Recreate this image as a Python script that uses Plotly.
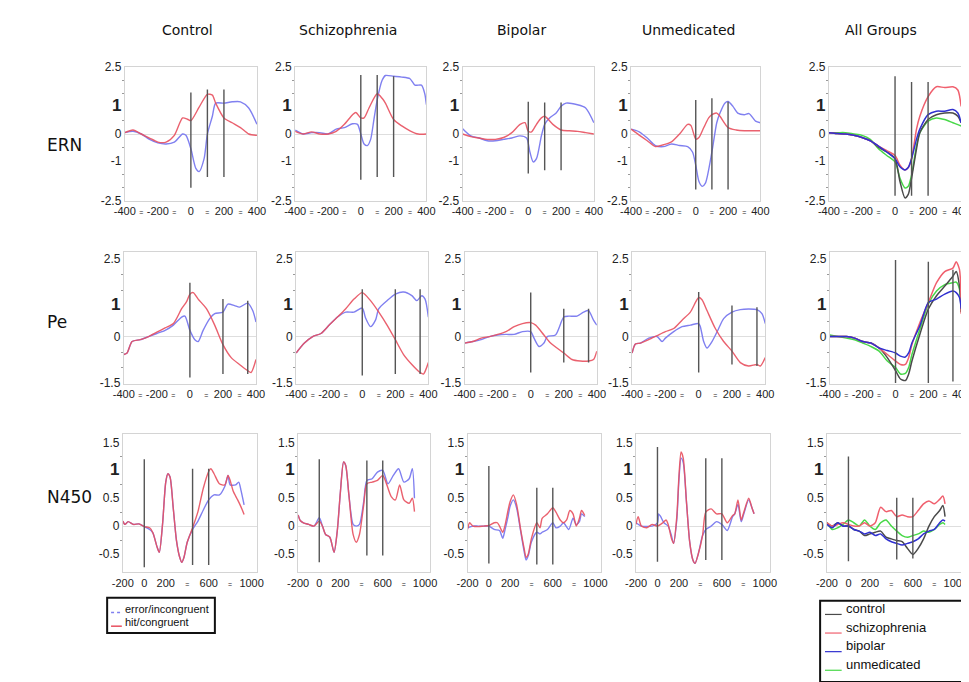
import plotly.graph_objects as go

W, H = 969, 682

# ---------------- DATA (time in ms, amplitude in uV) ----------------
COL_TITLES = ["Control", "Schizophrenia", "Bipolar", "Unmedicated", "All Groups"]
ROW_TITLES = ["ERN", "Pe", "N450"]
GROUPS = ["control", "schizophrenia", "bipolar", "unmedicated"]

# ERN row
ERN_CTRL_HIT_T = [-400,-350,-300,-250,-200,-150,-100,-50,-20,0,50,100,130,150,200,250,300,350,400]
ERN_CTRL_HIT_V = [0.05,0.15,0,-0.15,-0.3,-0.3,-0.05,0.6,0.55,0.5,1.0,1.48,1.45,1.15,0.6,0.42,0.24,0,-0.05]
ERN_CTRL_ERR_T = [-400,-350,-300,-250,-200,-150,-100,-50,-30,0,30,50,80,100,130,150,200,250,300,350,400]
ERN_CTRL_ERR_V = [0.05,0.1,0,-0.2,-0.33,-0.37,-0.3,0,-0.05,-0.55,-1.28,-1.4,-0.92,0,0.66,1.15,1.15,1.2,1.2,0.97,0.36]
ERN_SCZ_HIT_T = [-400,-350,-300,-250,-200,-150,-100,-50,-30,0,20,50,100,130,150,200,250,300,350,400]
ERN_SCZ_HIT_V = [0.1,0,0.08,0,0,0.1,0.36,0.72,0.8,0.6,0.6,0.97,1.5,1.33,1.15,0.54,0.3,0.12,0,0]
ERN_SCZ_ERR_T = [-400,-350,-300,-250,-200,-150,-100,-50,-20,0,20,40,60,80,100,130,150,200,250,300,330,370,390,400]
ERN_SCZ_ERR_V = [0.15,0,0.05,0.05,0,0.18,0.24,0.38,0.36,0,-0.37,-0.43,-0.2,0.54,1.27,2.0,2.18,2.15,2.12,2.06,1.82,1.82,1.5,1.09]
ERN_BIP_HIT_T = [-400,-350,-300,-250,-200,-150,-100,-50,-20,0,20,50,80,100,150,200,250,300,350,400]
ERN_BIP_HIT_V = [0,-0.1,-0.15,-0.2,-0.2,-0.13,0.05,0.36,0.42,0.1,0.08,0.36,0.6,0.66,0.36,0.15,0.12,0.1,0.05,0]
ERN_BIP_ERR_T = [-400,-350,-300,-250,-200,-150,-100,-50,-10,10,30,50,80,100,130,170,200,230,300,350,400]
ERN_BIP_ERR_V = [0.2,-0.07,-0.15,-0.25,-0.25,-0.2,-0.15,-0.07,-0.15,-0.67,-1.04,-0.92,-0.07,0.36,0.6,0.78,1.03,1.15,1.09,0.97,0.42]
ERN_UNM_HIT_T = [-400,-350,-300,-250,-200,-150,-100,-50,-30,0,20,50,80,100,130,150,200,250,300,350,400]
ERN_UNM_HIT_V = [0.18,-0.04,-0.25,-0.47,-0.4,-0.29,0,0.36,0.32,-0.19,-0.13,0.24,0.6,0.72,0.78,0.66,0.24,0.15,0.12,0.12,0.12]
ERN_UNM_ERR_T = [-400,-350,-300,-250,-200,-150,-100,-50,-20,0,20,40,60,100,130,150,180,200,230,260,300,330,370,400]
ERN_UNM_ERR_V = [0.18,0.08,-0.15,-0.43,-0.47,-0.37,-0.43,-0.47,-0.67,-1.16,-1.77,-1.95,-1.83,-0.67,0.42,0.78,1.15,1.21,1.03,0.78,0.72,0.76,0.48,0.42]
ERN_ALL_T = [-400,-350,-300,-250,-200,-150,-100,-50,0,30,60,80,100,130,150,200,250,300,350,380,400]
ERN_ALL_CONTROL = [0.05,0.02,0,-0.05,-0.13,-0.25,-0.49,-0.67,-0.92,-1.77,-2.38,-2.25,-1.65,-0.55,0.05,0.54,0.72,0.78,0.78,0.66,0.42]
ERN_ALL_SCZ = [0.05,0.02,0,-0.05,-0.13,-0.25,-0.45,-0.62,-0.8,-1.16,-1.34,-1.25,-0.92,0.18,0.66,1.39,1.76,1.73,1.76,1.64,1.03]
ERN_ALL_BIP = [0.05,0.02,0,-0.05,-0.13,-0.25,-0.45,-0.67,-0.92,-1.22,-1.34,-1.25,-0.92,-0.19,0.18,0.72,0.85,0.85,0.91,0.78,0.42]
ERN_ALL_UNM = [0.05,0.05,0.05,0,-0.05,-0.2,-0.55,-0.8,-1.04,-1.65,-2.01,-1.95,-1.53,-0.43,0.05,0.48,0.6,0.54,0.42,0.35,0.3]

# Pe row
PE_CTRL_HIT_T = [-400,-380,-350,-300,-250,-200,-150,-100,-50,-20,0,20,50,100,150,200,250,300,350,370,400]
PE_CTRL_HIT_V = [-0.58,-0.53,-0.16,-0.1,0,0.14,0.28,0.42,0.9,1.13,1.37,1.42,1.21,0.9,0.37,-0.26,-0.68,-0.9,-1.1,-1.16,-0.74]
PE_CTRL_ERR_T = [-400,-380,-350,-300,-250,-200,-150,-100,-50,-30,0,30,50,80,120,150,200,230,270,300,350,380,400]
PE_CTRL_ERR_V = [-0.58,-0.53,-0.16,-0.1,0,0.1,0.2,0.37,0.63,0.66,0.2,-0.1,-0.16,0.2,0.58,0.74,0.79,1.05,1.0,0.95,1.08,0.84,0.47]
PE_SCZ_HIT_T = [-400,-350,-300,-250,-200,-150,-100,-50,0,50,100,150,200,250,300,350,370,400]
PE_SCZ_HIT_V = [-0.53,-0.21,0,0.1,0.37,0.63,0.9,1.21,1.42,1.16,0.79,0.37,-0.1,-0.58,-0.9,-1.16,-1.21,-0.84]
PE_SCZ_ERR_T = [-400,-350,-300,-250,-200,-150,-100,-50,0,20,50,80,100,150,200,250,300,330,360,380,400]
PE_SCZ_ERR_V = [-0.53,-0.21,0,0.1,0.37,0.63,0.79,0.79,0.92,0.6,0.32,0.53,0.9,1.16,1.37,1.44,1.32,1.16,1.32,1.21,0.63]
PE_BIP_HIT_T = [-400,-350,-300,-250,-200,-150,-100,-50,0,30,80,120,200,250,300,350,380,400]
PE_BIP_HIT_V = [-0.21,-0.16,-0.05,0,0.07,0.16,0.32,0.42,0.45,0.37,0.05,-0.21,-0.53,-0.74,-0.79,-0.79,-0.74,-0.47]
PE_BIP_ERR_T = [-400,-350,-300,-250,-200,-150,-100,-50,0,20,50,80,100,150,200,230,280,320,350,380,400]
PE_BIP_ERR_V = [-0.21,-0.16,-0.1,0,0.05,0.07,0.07,0.16,0.16,-0.05,-0.32,-0.21,0,0.05,0.63,0.66,0.66,0.79,0.84,0.53,0.37]
PE_UNM_HIT_T = [-400,-380,-350,-300,-250,-200,-150,-100,-50,0,20,50,100,150,200,250,300,350,370,400]
PE_UNM_HIT_V = [-0.53,-0.24,-0.21,-0.1,0.03,0.16,0.26,0.53,0.79,1.26,1.19,0.84,0.26,-0.16,-0.47,-0.84,-0.95,-0.9,-0.95,-0.68]
PE_UNM_ERR_T = [-400,-380,-350,-300,-250,-220,-200,-150,-100,-50,0,10,30,50,80,120,150,200,250,300,350,380,400]
PE_UNM_ERR_V = [-0.53,-0.24,-0.21,-0.05,0,-0.16,-0.05,0.16,0.32,0.37,0.42,0.32,-0.16,-0.37,-0.16,0.26,0.58,0.79,0.87,0.89,0.87,0.74,0.42]
PE_ALL_T = [-400,-300,-250,-200,-150,-100,-50,0,30,60,80,100,150,200,250,300,350,370,390,400]
PE_ALL_CONTROL = [0,0,-0.05,-0.16,-0.21,-0.37,-0.68,-1.1,-1.37,-1.42,-1.21,-0.79,0.1,0.89,1.32,1.63,1.95,2.1,1.63,0.79]
PE_ALL_SCZ = [0,0,-0.05,-0.16,-0.21,-0.37,-0.58,-0.79,-0.9,-0.9,-0.68,-0.26,0.47,1.1,1.74,2.1,2.21,2.42,2.16,0.74]
PE_ALL_BIP = [0,0,-0.05,-0.16,-0.21,-0.37,-0.45,-0.53,-0.63,-0.66,-0.53,-0.21,0.37,1.1,1.21,1.37,1.47,1.42,1.26,0.9]
PE_ALL_UNM = [0.05,-0.05,-0.1,-0.21,-0.32,-0.47,-0.79,-1.0,-1.21,-1.19,-1.0,-0.58,0.26,1.05,1.47,1.68,1.74,1.76,1.53,0.79]

# N450 row
N450_CTRL_HIT_T = [-200,-180,-150,-100,-50,0,50,80,120,140,170,200,220,240,270,300,330,350,370,400,450,500,550,600,620,650,700,750,780,800,830,870,900,930]
N450_CTRL_HIT_V = [0.09,0.03,0.08,0.03,0.04,-0.01,-0.03,-0.12,-0.38,-0.47,0.03,0.79,0.94,0.88,0.32,-0.26,-0.56,-0.65,-0.56,-0.29,-0.03,0.26,0.68,0.98,1.03,0.94,0.76,0.74,0.91,0.82,0.62,0.47,0.35,0.21]
N450_CTRL_ERR_T = [-200,-180,-150,-100,-50,0,50,80,120,140,170,200,220,240,270,300,330,350,370,400,450,500,550,600,650,700,750,780,800,850,880,900,930]
N450_CTRL_ERR_V = [0.09,0.03,0.08,0.03,0.04,-0.01,-0.06,-0.12,-0.38,-0.47,0.03,0.79,0.94,0.88,0.32,-0.26,-0.56,-0.65,-0.56,-0.29,-0.06,0.09,0.29,0.47,0.56,0.56,0.71,0.91,0.74,0.74,0.79,0.65,0.38]
N450_SCZ_HIT_T = [-200,-180,-150,-100,-50,0,30,60,100,140,170,200,230,250,280,320,350,380,420,450,500,550,600,630,680,720,760,800,850,880,900]
N450_SCZ_HIT_V = [0.2,0.1,0.06,0.03,0,0.09,0,-0.15,-0.2,-0.47,-0.09,0.62,1.15,1.09,0.56,-0.15,-0.29,-0.15,0.38,0.76,0.79,0.82,0.91,0.79,0.53,0.47,0.74,0.47,0.41,0.5,0.26]
N450_SCZ_ERR_T = [-200,-180,-150,-100,-50,0,30,60,100,140,170,200,230,250,280,320,350,380,420,450,500,550,600,650,700,750,800,850,880,900]
N450_SCZ_ERR_V = [0.2,0.1,0.06,0.03,0,0.15,0,-0.15,-0.2,-0.47,-0.09,0.62,1.15,1.09,0.56,0.03,0,0.03,0.44,0.82,0.85,0.97,1.0,0.76,0.91,1.03,0.79,0.85,1.03,0.5]
N450_BIP_HIT_T = [-200,-180,-150,-100,-50,0,50,80,100,130,150,180,200,230,260,300,330,350,370,400,450,480,500,550,600,630,670,700,730,760,790,820,850,870,900]
N450_BIP_HIT_V = [-0.06,0.06,0,-0.01,0,0.01,0.06,0.06,0,-0.11,0,0.28,0.44,0.56,0.39,-0.08,-0.39,-0.56,-0.5,-0.22,0.06,-0.03,0.14,0.22,0.33,0.25,0.11,0.06,0.11,0.28,0.22,0,0.14,0.28,0.19]
N450_BIP_ERR_T = [-200,-150,-100,-50,0,50,100,130,150,180,200,230,260,300,330,350,370,400,450,480,500,550,600,630,670,700,750,790,820,850,870,900]
N450_BIP_ERR_V = [-0.03,0,0,0,0,-0.06,-0.08,-0.22,-0.08,0.17,0.36,0.47,0.33,-0.11,-0.44,-0.61,-0.53,-0.28,-0.11,-0.14,-0.11,-0.06,0.06,-0.03,0,0.06,-0.06,0.14,0.03,0.08,0.22,0.17]
N450_UNM_HIT_T = [-200,-180,-150,-100,-50,0,50,80,100,130,150,180,200,220,240,270,300,330,350,380,420,450,500,550,600,650,700,720,750,780,800,850,880,900]
N450_UNM_HIT_V = [0.03,0.17,0,-0.03,0.03,0,0.06,0.11,0.03,-0.22,-0.31,0.17,0.89,1.33,1.22,0.44,-0.28,-0.61,-0.67,-0.5,-0.17,0.25,0.31,0.22,0.22,0.06,0.19,0.22,0.47,0.11,0.22,0.5,0.33,0.22]
N450_UNM_ERR_T = [-200,-150,-50,0,10,30,60,100,130,150,180,200,220,240,270,300,330,350,380,420,450,500,550,600,650,700,720,750,780,800,850,880,900]
N450_UNM_ERR_V = [0.06,0,0,0.06,0.22,0.17,0.06,0,-0.17,-0.31,0.11,0.83,1.22,1.14,0.44,-0.28,-0.61,-0.67,-0.5,-0.17,-0.06,0,0.08,0.03,-0.08,0.17,0.22,0.39,0.08,0.19,0.47,0.33,0.22]
N450_ALL_T = [-200,-150,-100,-50,0,50,100,150,200,250,300,350,400,450,500,550,600,650,700,750,800,850,880,900]
N450_ALL_CONTROL = [0.06,0,0.06,0,0,-0.06,-0.09,-0.17,-0.14,-0.11,-0.09,-0.2,-0.23,-0.26,-0.28,-0.4,-0.51,-0.4,-0.23,0,0.17,0.28,0.37,0.17]
N450_ALL_SCZ = [0.06,0,0.03,0.06,0.03,0,0,0.06,0,0.06,0.34,0.26,0.28,0.17,0.2,0.17,0.17,0.28,0.4,0.45,0.4,0.48,0.54,0.4]
N450_ALL_BIP = [0.03,-0.03,0.06,0,0,-0.06,-0.09,-0.14,-0.11,-0.17,-0.14,-0.23,-0.28,-0.31,-0.34,-0.31,-0.28,-0.23,-0.14,-0.09,-0.06,0.06,0.11,0.09]
N450_ALL_UNM = [0.06,-0.06,-0.03,0.03,0.11,0.06,0,0.11,0,-0.06,0.06,0.11,0,-0.09,-0.17,-0.2,-0.17,-0.14,-0.09,-0.11,-0.06,0.03,0.06,0.03]

# analysis-window markers (time) and their vertical extents per panel
ERN_MARK_T = [0, 100, 200]
PE_MARK_T = [0, 200, 350]
N450_MARK_T = [0, 450, 600]
ERN_MARK_TOP = [[1.55,1.66,1.66],[2.2,2.2,2.15],[1.2,1.17,1.17],[1.27,1.33,1.2],[2.15,1.94,1.94]]
ERN_MARK_BOT = [[-2.0,-1.6,-1.6],[-1.7,-1.6,-1.6],[-1.47,-1.35,-1.35],[-2.07,-2.07,-2.07],[-2.3,-2.3,-2.3]]
PE_MARK_TOP = [[1.74,1.21,1.16],[1.53,1.53,1.53],[1.42,0.9,0.9],[1.44,1.0,0.95],[2.47,2.42,2.16]]
PE_MARK_BOT = [[-1.32,-1.21,-1.21],[-1.26,-1.21,-1.21],[-1.16,-0.84,-0.84],[-1.16,-0.9,-0.95],[-1.5,-1.5,-1.45]]
N450_MARK_TOP = [[1.2,1.03,1.03],[1.2,1.18,1.18],[1.08,0.69,0.69],[1.42,1.22,1.22],[1.25,0.51,0.51]]
N450_MARK_BOT = [[-0.74,-0.7,-0.7],[-0.65,-0.53,-0.53],[-0.67,-0.69,-0.69],[-0.64,-0.61,-0.61],[-0.63,-0.6,-0.58]]

# ---------------- STYLE / LAYOUT ----------------
HIT_RED = "#e8505f"
ERR_BLUE = "#8080f0"
GROUP_COLORS = {"control": "#4a4a4a", "schizophrenia": "#f0606e", "bipolar": "#3030d0", "unmedicated": "#48d848"}
MARK_COLOR = "#555555"
BOX_COLOR = "#d4d4d4"
XTICK_FONT = dict(family="Liberation Sans Narrow, Liberation Sans, Arial, sans-serif", size=11, color="#222")
YTICK_FONT = dict(family="Liberation Sans Narrow, Liberation Sans, Arial, sans-serif", size=12, color="#222")

XDOM = [
    [(108, 243), (282, 416), (453, 587), (625, 757), (827, 962)],
    [(107, 242), (283, 418), (455, 590), (626, 762), (828, 962)],
    [(106, 243), (285, 420), (458, 594), (630, 767), (825, 962)],
]
YDOM = [(53, 190), (242, 377), (428, 569)]
YRANGE = [(-2.5, 2.5), (-1.54, 2.73), (-0.83, 1.65)]
XRANGE = [(-400, 400), (-400, 400), (-200, 1050)]

SM = '<span style="font-size:7px">=</span>'
BIG1 = '<span style="font-size:17px"><b>1</b></span>'
XT_VALS = [[-400,-300,-200,-100,0,100,200,300,400]] * 2 + [[-200,0,200,400,600,800,1000]]
XT_TEXT = [["-400",SM,"-200",SM,"0",SM,"200",SM,"400"]] * 2 + [["-200","0","200",SM,"600",SM,"1000"]]
YT_VALS = [[-2.5,-1,0,1,2.5], [-1.5,0,1,2.5], [-0.5,0,0.5,1,1.5]]
YT_TEXT = [["-2.5","-1","0",BIG1,"2.5"], ["-1.5","0",BIG1,"2.5"], ["-0.5","0","0.5",BIG1,"1.5"]]
YMINOR = [[-2,-1.5,-0.5,0.5,1.5,2], [-1,-0.5,0.5,1.5,2], [-0.25,0.25,0.75,1.25]]

panels = {
    0: [(ERN_CTRL_ERR_T, ERN_CTRL_ERR_V, ERN_CTRL_HIT_T, ERN_CTRL_HIT_V),
        (ERN_SCZ_ERR_T, ERN_SCZ_ERR_V, ERN_SCZ_HIT_T, ERN_SCZ_HIT_V),
        (ERN_BIP_ERR_T, ERN_BIP_ERR_V, ERN_BIP_HIT_T, ERN_BIP_HIT_V),
        (ERN_UNM_ERR_T, ERN_UNM_ERR_V, ERN_UNM_HIT_T, ERN_UNM_HIT_V)],
    1: [(PE_CTRL_ERR_T, PE_CTRL_ERR_V, PE_CTRL_HIT_T, PE_CTRL_HIT_V),
        (PE_SCZ_ERR_T, PE_SCZ_ERR_V, PE_SCZ_HIT_T, PE_SCZ_HIT_V),
        (PE_BIP_ERR_T, PE_BIP_ERR_V, PE_BIP_HIT_T, PE_BIP_HIT_V),
        (PE_UNM_ERR_T, PE_UNM_ERR_V, PE_UNM_HIT_T, PE_UNM_HIT_V)],
    2: [(N450_CTRL_ERR_T, N450_CTRL_ERR_V, N450_CTRL_HIT_T, N450_CTRL_HIT_V),
        (N450_SCZ_ERR_T, N450_SCZ_ERR_V, N450_SCZ_HIT_T, N450_SCZ_HIT_V),
        (N450_BIP_ERR_T, N450_BIP_ERR_V, N450_BIP_HIT_T, N450_BIP_HIT_V),
        (N450_UNM_ERR_T, N450_UNM_ERR_V, N450_UNM_HIT_T, N450_UNM_HIT_V)],
}
all_groups = {
    0: (ERN_ALL_T, [ERN_ALL_CONTROL, ERN_ALL_SCZ, ERN_ALL_BIP, ERN_ALL_UNM]),
    1: (PE_ALL_T, [PE_ALL_CONTROL, PE_ALL_SCZ, PE_ALL_BIP, PE_ALL_UNM]),
    2: (N450_ALL_T, [N450_ALL_CONTROL, N450_ALL_SCZ, N450_ALL_BIP, N450_ALL_UNM]),
}
marks = {
    0: (ERN_MARK_T, ERN_MARK_TOP, ERN_MARK_BOT),
    1: (PE_MARK_T, PE_MARK_TOP, PE_MARK_BOT),
    2: (N450_MARK_T, N450_MARK_TOP, N450_MARK_BOT),
}

fig = go.Figure()
layout = {}
shapes = []
annotations = []


def px_x(p):
    return p / W


def px_y(p):
    return 1 - p / H


for r in range(3):
    for c in range(5):
        n = r * 5 + c + 1
        xa, ya = f"x{n}", f"y{n}"
        x0, x1 = XDOM[r][c]
        y0, y1 = YDOM[r]
        layout[f"xaxis{n}"] = dict(
            domain=[px_x(x0), px_x(x1)], range=list(XRANGE[r]), anchor=ya,
            showgrid=False, zeroline=False, showline=True, mirror=True,
            linecolor=BOX_COLOR, linewidth=1, ticks="", tickangle=0,
            tickmode="array", tickvals=XT_VALS[r], ticktext=XT_TEXT[r],
            tickfont=XTICK_FONT, fixedrange=True)
        layout[f"yaxis{n}"] = dict(
            domain=[px_y(y1), px_y(y0)], range=list(YRANGE[r]), anchor=xa,
            showgrid=False, zeroline=True, zerolinecolor="#dedede", zerolinewidth=1,
            showline=True, mirror=True, linecolor=BOX_COLOR, linewidth=1, ticks="",
            tickmode="array", tickvals=YT_VALS[r], ticktext=YT_TEXT[r],
            tickfont=YTICK_FONT, fixedrange=True,
            minor=dict(tickvals=YMINOR[r], ticks="outside", ticklen=2, tickcolor="#999"))

        if c < 4:
            et, ev, ht, hv = panels[r][c]
            fig.add_trace(go.Scatter(x=et, y=ev, mode="lines", xaxis=xa, yaxis=ya,
                                     line=dict(color=ERR_BLUE, width=1.4, shape="spline", smoothing=0.7),
                                     showlegend=False, hoverinfo="skip"))
            fig.add_trace(go.Scatter(x=ht, y=hv, mode="lines", xaxis=xa, yaxis=ya,
                                     line=dict(color=HIT_RED, width=1.4, shape="spline", smoothing=0.7),
                                     opacity=0.9, showlegend=False, hoverinfo="skip"))
        else:
            t, series = all_groups[r]
            order = [3, 0, 1, 2]
            for k in order:
                fig.add_trace(go.Scatter(x=t, y=series[k], mode="lines", xaxis=xa, yaxis=ya,
                                         line=dict(color=GROUP_COLORS[GROUPS[k]], width=1.5,
                                                   shape="spline", smoothing=0.7),
                                         showlegend=False, hoverinfo="skip"))

        mt, mtop, mbot = marks[r]
        for i, tm in enumerate(mt):
            shapes.append(dict(type="line", xref=xa, yref=ya, x0=tm, x1=tm,
                               y0=mbot[c][i], y1=mtop[c][i], layer="above",
                               line=dict(color=MARK_COLOR, width=1.4)))

# column titles
TITLE_X = [172, 336, 513, 684, 880]
for c, t in enumerate(COL_TITLES):
    annotations.append(dict(text=t, x=px_x(TITLE_X[c]), y=px_y(15), xref="paper", yref="paper",
                            showarrow=False, xanchor="center", yanchor="middle",
                            font=dict(family="DejaVu Sans, sans-serif", size=14, color="#111")))
# row titles
ROW_Y = [133, 313, 492]
for r, t in enumerate(ROW_TITLES):
    annotations.append(dict(text=t, x=px_x(27), y=px_y(ROW_Y[r]), xref="paper", yref="paper",
                            showarrow=False, xanchor="left", yanchor="middle",
                            font=dict(family="DejaVu Sans, sans-serif", size=17, color="#111")))

# legends (drawn as boxes with sample lines)
LEG_FONT = dict(family="Liberation Sans, Arial, sans-serif", size=11, color="#111")
shapes.append(dict(type="rect", xref="paper", yref="paper", x0=px_x(90), x1=px_x(200),
                   y0=px_y(631), y1=px_y(595), line=dict(color="#111", width=2), fillcolor="white"))
leg1 = [("error/incongruent", ERR_BLUE, "dot", 606), ("hit/congruent", HIT_RED, "solid", 620)]
for txt, col, dash, yy in leg1:
    shapes.append(dict(type="line", xref="paper", yref="paper", x0=px_x(94), x1=px_x(105),
                       y0=px_y(yy + 4), y1=px_y(yy + 4), line=dict(color=col, width=1.5, dash=dash)))
    annotations.append(dict(text=txt, x=px_x(106), y=px_y(yy), xref="paper", yref="paper",
                            showarrow=False, xanchor="left", yanchor="middle", font=LEG_FONT))

shapes.append(dict(type="rect", xref="paper", yref="paper", x0=px_x(818), x1=px_x(967),
                   y0=px_y(681), y1=px_y(598), line=dict(color="#111", width=2), fillcolor="white"))
for i, g in enumerate(GROUPS):
    yy = 606 + i * 19
    shapes.append(dict(type="line", xref="paper", yref="paper", x0=px_x(823), x1=px_x(840),
                       y0=px_y(yy + 6), y1=px_y(yy + 6),
                       line=dict(color=GROUP_COLORS[g], width=1.2)))
    annotations.append(dict(text=g, x=px_x(842), y=px_y(yy), xref="paper", yref="paper",
                            showarrow=False, xanchor="left", yanchor="middle",
                            font=dict(family="Liberation Sans, Arial, sans-serif", size=13, color="#111")))

fig.update_layout(
    width=W, height=H, margin=dict(l=0, r=0, t=0, b=0),
    paper_bgcolor="white", plot_bgcolor="white",
    showlegend=False, shapes=shapes, annotations=annotations,
    **layout)

fig.write_html("out.html")
